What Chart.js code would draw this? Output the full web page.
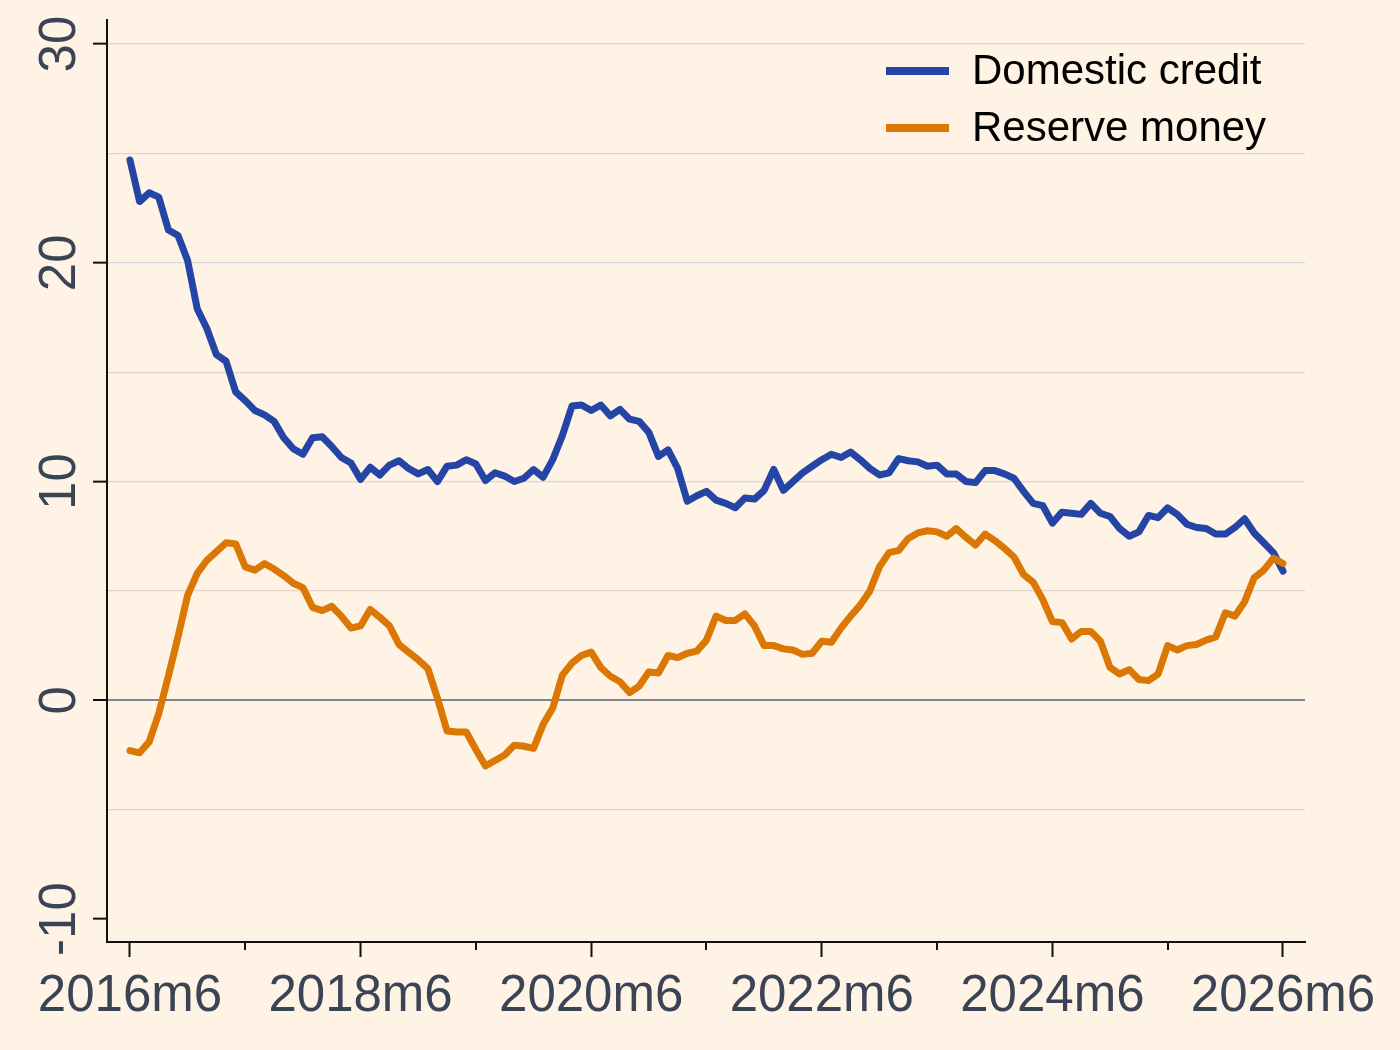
<!DOCTYPE html>
<html>
<head>
<meta charset="utf-8">
<title>Domestic credit and reserve money</title>
<script src="https://cdn.jsdelivr.net/npm/chart.js@4.4.1/dist/chart.umd.min.js"></script>
<style>
  html, body { margin: 0; padding: 0; background: #fff3e5; }
  #wrap { width: 1400px; height: 1050px; position: relative; }
</style>
</head>
<body>
<div id="wrap"><canvas id="chart"></canvas></div>
<script>
// monthly periods, 2016m6 .. 2026m6 (index 0 = 2016m6)
const months = [];
for (let i = 0; i <= 120; i++) {
    const m = (5 + i) % 12 + 1;
    const y = 2016 + Math.floor((5 + i) / 12);
    months.push(y + 'm' + m);
}

const domesticCredit = [
    24.7, 22.8, 23.2, 23.0, 21.5, 21.25, 20.1, 17.9, 17.0, 15.8, 15.5, 14.1,
    13.7, 13.25, 13.05, 12.75, 12.0, 11.5, 11.25, 12.0, 12.05, 11.6, 11.1, 10.85,
    10.1, 10.65, 10.3, 10.75, 10.95, 10.6, 10.35, 10.55, 10.0, 10.7, 10.75, 11.0,
    10.8, 10.05, 10.4, 10.25, 10.0, 10.15, 10.55, 10.2, 11.0, 12.1, 13.45, 13.5,
    13.25, 13.5, 13.0, 13.3, 12.85, 12.75, 12.25, 11.15, 11.45, 10.6, 9.1, 9.35,
    9.55, 9.15, 9.0, 8.8, 9.25, 9.2, 9.6, 10.55, 9.6, 10.0, 10.4, 10.7,
    11.0, 11.25, 11.1, 11.35, 11.0, 10.6, 10.3, 10.4, 11.05, 10.95, 10.9, 10.7,
    10.75, 10.35, 10.35, 10.0, 9.95, 10.5, 10.5, 10.35, 10.15, 9.55, 9.0, 8.9,
    8.1, 8.6, 8.55, 8.5, 9.0, 8.55, 8.4, 7.85, 7.5, 7.7, 8.45, 8.35,
    8.8, 8.5, 8.05, 7.9, 7.85, 7.6, 7.6, 7.9, 8.3, 7.65, 7.2, 6.75,
    5.9
];

const reserveMoney = [
    -2.3, -2.4, -1.9, -0.6, 1.1, 2.9, 4.8, 5.8, 6.4, 6.8, 7.2, 7.15,
    6.1, 5.95, 6.25, 6.0, 5.7, 5.35, 5.15, 4.25, 4.1, 4.3, 3.85, 3.3,
    3.4, 4.15, 3.8, 3.4, 2.55, 2.2, 1.85, 1.45, 0.1, -1.4, -1.45, -1.45,
    -2.25, -3.0, -2.75, -2.5, -2.05, -2.1, -2.2, -1.1, -0.35, 1.15, 1.7, 2.05,
    2.2, 1.5, 1.1, 0.85, 0.35, 0.65, 1.3, 1.25, 2.05, 1.95, 2.15, 2.25,
    2.75, 3.85, 3.65, 3.65, 3.95, 3.4, 2.5, 2.5, 2.35, 2.3, 2.1, 2.15,
    2.7, 2.65, 3.3, 3.85, 4.35, 5.0, 6.1, 6.75, 6.85, 7.4, 7.65, 7.75,
    7.7, 7.5, 7.85, 7.45, 7.1, 7.6, 7.3, 6.95, 6.55, 5.75, 5.4, 4.6,
    3.6, 3.55, 2.8, 3.15, 3.15, 2.7, 1.5, 1.2, 1.4, 0.95, 0.9, 1.2,
    2.5, 2.3, 2.5, 2.55, 2.75, 2.9, 4.0, 3.85, 4.5, 5.6, 5.95, 6.5,
    6.25
];

// axis ticks
const xTickMonths = [0, 24, 48, 72, 96, 120];
const xTickLabels = ['2016m6', '2018m6', '2020m6', '2022m6', '2024m6', '2026m6'];
const xMinorMonths = [12, 36, 60, 84, 108];
const yGridValues = [-10, -5, 0, 5, 10, 15, 20, 25, 30];
const yTickValues = [-10, 0, 10, 20, 30];
const yTickLabels = ['-10', '0', '10', '20', '30'];

const FONT = '"Liberation Sans", Arial, Helvetica, sans-serif';
const LABEL_COLOR = '#3b4455';
const AXIS_COLOR = '#111111';

function gridColor(v) {
    if (v === 0) return '#7f848e';
    if (v === -10) return 'rgba(0,0,0,0)';
    return v % 10 === 0 ? '#d6d8e0' : '#e2d5c7';
}

// short ticks between the labelled years
const minorTicks = {
    id: 'minorTicks',
    afterDraw(chart) {
        const { ctx, chartArea } = chart;
        const x = chart.scales.x;
        ctx.save();
        ctx.strokeStyle = AXIS_COLOR;
        ctx.lineWidth = 2;
        xMinorMonths.forEach((m) => {
            const px = Math.round(x.getPixelForValue(m));
            ctx.beginPath();
            ctx.moveTo(px, chartArea.bottom);
            ctx.lineTo(px, chartArea.bottom + 8);
            ctx.stroke();
        });
        ctx.restore();
    }
};

// legend drawn inside the plot, top right
const insideLegend = {
    id: 'insideLegend',
    afterDraw(chart) {
        const ctx = chart.ctx;
        const rows = [71, 128];
        ctx.save();
        chart.data.datasets.forEach((ds, i) => {
            const y = rows[i];
            ctx.strokeStyle = ds.borderColor;
            ctx.lineWidth = 8;
            ctx.lineCap = 'butt';
            ctx.beginPath();
            ctx.moveTo(886, y);
            ctx.lineTo(949, y);
            ctx.stroke();
            ctx.fillStyle = '#000000';
            ctx.font = '42px ' + FONT;
            ctx.textAlign = 'left';
            ctx.textBaseline = 'middle';
            ctx.fillText(ds.label, 972, y + 1);
        });
        ctx.restore();
    }
};

const chart = new Chart(document.getElementById('chart'), {
    type: 'line',
    data: {
        labels: months,
        datasets: [
            {
                label: 'Domestic credit',
                data: domesticCredit.map((v, i) => ({ x: i, y: v })),
                borderColor: '#2444a6',
                borderWidth: 7,
                pointRadius: 0,
                tension: 0,
                borderCapStyle: 'round',
                borderJoinStyle: 'round',
                order: 2
            },
            {
                label: 'Reserve money',
                data: reserveMoney.map((v, i) => ({ x: i, y: v })),
                borderColor: '#db7704',
                borderWidth: 7,
                pointRadius: 0,
                tension: 0,
                borderCapStyle: 'round',
                borderJoinStyle: 'round',
                order: 1
            }
        ]
    },
    options: {
        responsive: true,
        maintainAspectRatio: false,
        animation: false,
        layout: {
            padding: { top: 20, right: 95, left: 0, bottom: 0 }
        },
        plugins: {
            legend: { display: false },
            tooltip: { enabled: false }
        },
        scales: {
            x: {
                type: 'linear',
                min: -2.39,
                max: 122.29,
                afterBuildTicks: (scale) => {
                    scale.ticks = xTickMonths.map((v) => ({ value: v }));
                },
                afterFit: (scale) => {
                    scale.height = 108;
                    scale.paddingLeft = 0;
                    scale.paddingRight = 0;
                },
                grid: {
                    drawOnChartArea: false,
                    tickLength: 15,
                    tickWidth: 2,
                    tickColor: AXIS_COLOR
                },
                border: { color: AXIS_COLOR, width: 2 },
                ticks: {
                    autoSkip: false,
                    maxRotation: 0,
                    padding: 9,
                    color: LABEL_COLOR,
                    font: { family: FONT, size: 51 },
                    callback: (v) => {
                        const i = xTickMonths.indexOf(v);
                        return i >= 0 ? xTickLabels[i] : '';
                    }
                }
            },
            y: {
                min: -11.05,
                max: 31.1,
                afterBuildTicks: (scale) => {
                    scale.ticks = yGridValues.map((v) => ({ value: v }));
                },
                afterFit: (scale) => {
                    scale.width = 107;
                    // rotated labels would otherwise push the plot down
                    scale.paddingTop = 0;
                    scale.paddingBottom = 0;
                },
                grid: {
                    color: (ctx) => gridColor(ctx.tick.value),
                    lineWidth: (ctx) => (ctx.tick.value === 0 ? 2 : 1.3),
                    tickLength: 14,
                    tickWidth: 2,
                    tickColor: (ctx) => (yTickValues.includes(ctx.tick.value) ? AXIS_COLOR : 'rgba(0,0,0,0)')
                },
                border: { color: AXIS_COLOR, width: 2 },
                ticks: {
                    autoSkip: false,
                    minRotation: 90,
                    maxRotation: 90,
                    crossAlign: 'center',
                    padding: -5,
                    color: LABEL_COLOR,
                    font: { family: FONT, size: 51 },
                    callback: (v) => {
                        const i = yTickValues.indexOf(v);
                        return i >= 0 ? yTickLabels[i] : '';
                    }
                }
            }
        }
    },
    plugins: [minorTicks, insideLegend]
});
</script>
</body>
</html>
